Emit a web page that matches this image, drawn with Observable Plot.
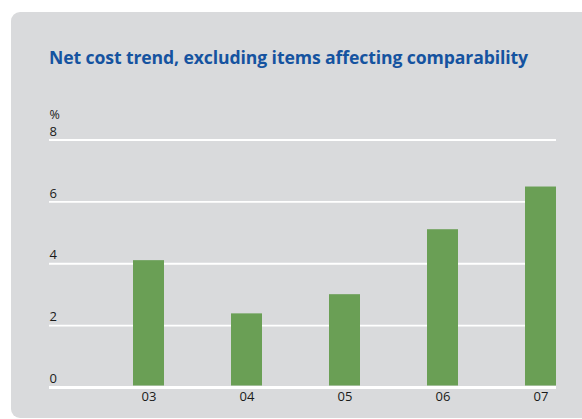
<!DOCTYPE html>
<html>
<head>
<meta charset="utf-8">
<script src="https://cdn.jsdelivr.net/npm/d3@7"></script>
<script src="https://cdn.jsdelivr.net/npm/@observablehq/plot@0.6"></script>
<style>
  html, body { margin: 0; padding: 0; background: #ffffff; width: 582px; height: 419px; overflow: hidden; }
  #panel { position: absolute; left: 11px; top: 12px; width: 640px; height: 406px; background: #d9dadc; border-radius: 9px; }
  #title { position: absolute; left: 49px; top: 44.5px; font-family: "Open Sans", sans-serif; font-weight: 700; font-size: 17.6px; line-height: normal; color: #1553a0; white-space: nowrap; letter-spacing: -0.1px; }
  #chart { position: absolute; left: 0; top: 0; }
</style>
</head>
<body>
<div id="panel"></div>
<div id="title">Net cost trend, excluding items affecting comparability</div>
<div id="chart"></div>
<script>
const years = ["03", "04", "05", "06", "07"];
const netCost = [4.1, 2.38, 3.0, 5.1, 6.48];
const yTicks = [0, 2, 4, 6, 8];
const unitLabel = "%";

const data = years.map((year, i) => ({year, value: netCost[i]}));

const chart = Plot.plot({
  width: 582,
  height: 419,
  marginLeft: 49,
  marginRight: 26,
  marginTop: 139.5,
  marginBottom: 32,
  style: {background: "transparent", fontFamily: "'Open Sans', sans-serif", color: "#1a1a1a"},
  x: {domain: years, type: "band", paddingInner: 0.6845, paddingOuter: 0.4225, align: 1, axis: null},
  y: {domain: [0, 8], axis: null},
  marks: [
    Plot.ruleY(yTicks.filter(d => d !== 0), {stroke: "#ffffff", strokeWidth: 1.8}),
    Plot.barY(data, {x: "year", y: "value", fill: "#6a9f55", insetBottom: 1.5}),
    Plot.ruleY([0], {stroke: "#ffffff", strokeWidth: 3}),
    Plot.text(yTicks, {y: d => d, text: d => String(d), frameAnchor: "left", textAnchor: "start", dy: -8.5, fontSize: 13, fill: "#1a1a1a"}),
    Plot.text([unitLabel], {frameAnchor: "top-left", textAnchor: "start", dy: -29.5, fontSize: 12.5, fill: "#1a1a1a"}),
    Plot.axisX({tickSize: 0, tickPadding: 4, fontSize: 13, label: null, color: "#1a1a1a"})
  ]
});
document.getElementById("chart").appendChild(chart);
</script>
</body>
</html>
